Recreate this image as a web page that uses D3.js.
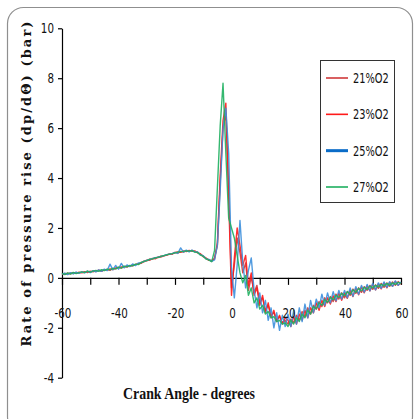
<!DOCTYPE html>
<html>
<head>
<meta charset="utf-8">
<script src="https://cdn.jsdelivr.net/npm/d3@7"></script>
<style>
  html, body { margin: 0; padding: 0; background: #fff; }
  svg { display: block; }
</style>
</head>
<body>
<svg id="chart" width="418" height="419"></svg>
<script>
// Crank angle grid, degrees
const crankAngle = [
  -60,-59,-58,-57,-56,-55,-54,-53,-52,-51,-50,-49,-48,-47,-46,-45,-44,-43,-42,-41,
  -40,-39,-38,-37,-36,-35,-34,-33,-32,-31,-30,-29,-28,-27,-26,-25,-24,-23,-22,-21,
  -20,-19,-18,-17,-16,-15,-14,-13,-12,-11,-10,-9,-8,-7,-6,-5,-4,-3,-2,-1,
  0,1,2,3,4,5,6,7,8,9,10,11,12,13,14,15,16,17,18,19,
  20,21,22,23,24,25,26,27,28,29,30,31,32,33,34,35,36,37,38,39,
  40,41,42,43,44,45,46,47,48,49,50,51,52,53,54,55,56,57,58,59,60
];

// Rate of pressure rise (bar/deg) for each oxygen concentration
const o2_21 = [
  0.14,0.18,0.15,0.20,0.17,0.22,0.19,0.23,0.25,0.21,0.27,0.24,0.28,0.30,0.26,0.32,0.34,0.30,0.38,0.36,
  0.41,0.39,0.46,0.43,0.49,0.48,0.53,0.55,0.62,0.64,0.71,0.70,0.78,0.76,0.84,0.83,0.88,0.91,0.94,0.96,
  1.01,0.99,1.06,1.03,1.09,1.06,1.10,1.05,1.03,0.93,0.88,0.77,0.73,0.66,0.80,1.30,3.80,6.00,6.60,3.60,
  -0.40,0.50,1.60,1.00,0.20,0.60,-0.50,0.05,-0.60,-0.30,-1.00,-0.80,-1.30,-1.10,-1.50,-1.40,-1.70,-1.55,-1.80,-1.70,
  -1.85,-1.65,-1.80,-1.50,-1.70,-1.35,-1.55,-1.20,-1.45,-1.10,-1.25,-0.95,-1.15,-0.80,-1.00,-0.75,-0.95,-0.65,-0.85,-0.60,
  -0.80,-0.55,-0.70,-0.45,-0.62,-0.40,-0.58,-0.35,-0.50,-0.30,-0.46,-0.28,-0.42,-0.22,-0.38,-0.20,-0.34,-0.16,-0.30,-0.15,-0.25
];
const o2_23 = [
  0.17,0.14,0.19,0.16,0.21,0.18,0.23,0.20,0.22,0.26,0.23,0.28,0.25,0.31,0.28,0.33,0.31,0.36,0.33,0.40,
  0.42,0.44,0.43,0.48,0.46,0.52,0.54,0.57,0.58,0.67,0.68,0.75,0.75,0.81,0.81,0.87,0.88,0.91,0.96,0.95,
  1.02,1.04,1.02,1.08,1.05,1.10,1.06,1.08,1.00,0.97,0.85,0.80,0.70,0.70,0.75,1.40,4.10,6.30,7.00,3.20,
  -0.70,0.80,2.00,1.30,0.50,0.90,-0.30,0.20,-0.70,-0.40,-1.10,-0.70,-1.40,-1.00,-1.60,-1.30,-1.75,-1.50,-1.85,-1.60,
  -1.70,-1.95,-1.55,-1.85,-1.45,-1.70,-1.30,-1.60,-1.20,-1.40,-1.00,-1.30,-0.90,-1.15,-0.80,-1.05,-0.72,-0.95,-0.62,-0.90,
  -0.60,-0.82,-0.50,-0.75,-0.42,-0.68,-0.36,-0.60,-0.32,-0.52,-0.26,-0.48,-0.24,-0.44,-0.20,-0.40,-0.18,-0.34,-0.14,-0.30,-0.18
];
const o2_25 = [
  0.15,0.19,0.13,0.21,0.16,0.23,0.18,0.24,0.20,0.27,0.21,0.29,0.24,0.32,0.26,0.35,0.29,0.55,0.32,0.50,
  0.35,0.58,0.40,0.52,0.45,0.56,0.49,0.60,0.61,0.66,0.70,0.74,0.77,0.81,0.83,0.86,0.89,0.93,0.95,0.97,
  1.02,0.98,1.20,1.03,1.11,1.04,1.11,1.04,1.04,0.92,0.89,0.76,0.74,0.66,0.72,1.30,3.50,6.00,6.80,5.00,
  0.40,-0.80,0.50,2.30,0.60,-0.40,0.30,0.80,-0.50,-1.20,-0.60,-1.40,-0.90,-1.70,-1.20,-2.00,-1.40,-2.10,-1.50,-1.95,
  -1.45,-1.95,-1.30,-1.85,-1.20,-1.75,-1.05,-1.60,-0.90,-1.40,-0.85,-1.20,-0.65,-1.10,-0.60,-1.00,-0.55,-0.92,-0.50,-0.85,
  -0.50,-0.80,-0.40,-0.74,-0.35,-0.66,-0.30,-0.58,-0.26,-0.52,-0.22,-0.48,-0.20,-0.42,-0.16,-0.38,-0.15,-0.34,-0.12,-0.30,-0.16
];
const o2_27 = [
  0.18,0.13,0.20,0.15,0.22,0.17,0.21,0.24,0.21,0.27,0.23,0.27,0.30,0.26,0.33,0.29,0.35,0.32,0.38,0.36,
  0.43,0.39,0.47,0.44,0.50,0.48,0.55,0.53,0.61,0.66,0.69,0.74,0.76,0.80,0.82,0.86,0.89,0.92,0.95,0.97,
  1.00,1.03,1.05,1.06,1.08,1.07,1.09,1.03,1.02,0.92,0.86,0.76,0.71,0.65,1.10,3.60,6.10,7.80,5.00,2.40,
  2.00,1.60,0.90,0.20,-0.20,0.10,-0.70,-0.40,-1.00,-0.80,-1.25,-1.10,-1.45,-1.35,-1.60,-1.55,-1.75,-1.70,-1.85,-1.80,
  -1.95,-1.70,-1.85,-1.60,-1.75,-1.45,-1.60,-1.30,-1.45,-1.15,-1.25,-1.00,-1.10,-0.88,-0.98,-0.78,-0.88,-0.70,-0.78,-0.62,
  -0.72,-0.55,-0.66,-0.48,-0.58,-0.42,-0.52,-0.38,-0.46,-0.33,-0.40,-0.30,-0.36,-0.26,-0.32,-0.22,-0.30,-0.20,-0.26,-0.18,-0.22
];

const seriesNames = ["21%O2", "23%O2", "25%O2", "27%O2"];
const seriesValues = [o2_21, o2_23, o2_25, o2_27];
const seriesColors = ["#d0393a", "#ff1a1a", "#3d8fdc", "#1fb060"];
const legendColors = ["#d0393a", "#ff1a1a", "#0a6cc8", "#1fb060"];
const legendWidths = [1.6, 1.6, 3, 1.6];

const xTickLabels = [-60, -40, -20, 0, 20, 40, 60];
const xTickMarks = [-60, -50, -40, -30, -20, -10, 0, 10, 20, 30, 40, 50, 60];
const yTickLabels = [-4, -2, 0, 2, 4, 6, 8, 10];

const svg = d3.select("#chart");
const tickFont = "'DejaVu Sans Condensed', 'DejaVu Sans', sans-serif";
const squeeze = 0.82;

// Rounded frame around the chart area
svg.append("rect")
  .attr("x", 7.5).attr("y", 7.5)
  .attr("width", 405).attr("height", 425)
  .attr("rx", 16).attr("ry", 16)
  .attr("fill", "#fff")
  .attr("stroke", "#8f8f8f")
  .attr("stroke-width", 1.2);

const x = d3.scaleLinear().domain([-60, 60]).range([62, 401]);
const y = d3.scaleLinear().domain([-4, 10]).range([377.7, 28.3]);

// Y axis (ticks and line; labels drawn below with a narrow stretch)
const yAxis = svg.append("g")
  .attr("transform", `translate(${x(-60)},0)`)
  .call(d3.axisLeft(y).tickValues(yTickLabels).tickSize(4).tickSizeOuter(0).tickFormat(""));
yAxis.selectAll("line, path").attr("stroke", "#000").attr("stroke-width", 1.2);

svg.append("g").selectAll("text")
  .data(yTickLabels)
  .join("text")
  .attr("transform", d => `translate(54,${y(d) + 5}) scale(${squeeze},1)`)
  .attr("text-anchor", "end")
  .attr("font-family", tickFont)
  .attr("font-size", 14)
  .attr("fill", "#111")
  .text(d => String(d));

// X axis crossing at zero
const xAxis = svg.append("g")
  .attr("transform", `translate(0,${y(0)})`)
  .call(d3.axisBottom(x).tickValues(xTickMarks).tickSize(7).tickSizeOuter(0).tickFormat(""));
xAxis.selectAll("line, path").attr("stroke", "#000").attr("stroke-width", 1.2);

// Series lines
const line = d3.line()
  .x((d, i) => x(crankAngle[i]))
  .y(d => y(d));

svg.append("g").selectAll("path.series")
  .data(seriesValues)
  .join("path")
  .attr("class", "series")
  .attr("d", line)
  .attr("fill", "none")
  .attr("stroke", (d, i) => seriesColors[i])
  .attr("stroke-width", 1.4)
  .attr("stroke-linejoin", "round")
  .attr("stroke-opacity", 0.9);

// X tick labels, drawn over the curves
svg.append("g").selectAll("text")
  .data(xTickLabels)
  .join("text")
  .attr("transform", d => `translate(${x(d) + 1},318) scale(${squeeze},1)`)
  .attr("text-anchor", "middle")
  .attr("font-family", tickFont)
  .attr("font-size", 14)
  .attr("fill", "#111")
  .text(d => String(d));

// Axis titles
svg.append("text")
  .attr("transform", "translate(31,184) rotate(-90)")
  .attr("text-anchor", "middle")
  .attr("font-family", "'DejaVu Serif', serif")
  .attr("font-weight", "bold")
  .attr("font-size", 13)
  .attr("fill", "#111")
  .attr("textLength", 325)
  .attr("lengthAdjust", "spacing")
  .text("Rate of pressure rise  (dp/dΘ) (bar)");

svg.append("text")
  .attr("x", 123)
  .attr("y", 399)
  .attr("font-family", "'Liberation Serif', serif")
  .attr("font-weight", "bold")
  .attr("font-size", 17)
  .attr("fill", "#111")
  .attr("textLength", 132)
  .attr("lengthAdjust", "spacingAndGlyphs")
  .text("Crank Angle - degrees");

// Legend
const legend = svg.append("g");
legend.append("rect")
  .attr("x", 320.5).attr("y", 60.5)
  .attr("width", 74).attr("height", 142)
  .attr("fill", "#fff")
  .attr("stroke", "#333")
  .attr("stroke-width", 1);

const legendY = d3.scalePoint().domain(seriesNames).range([78, 187]);
const items = legend.selectAll("g.item")
  .data(seriesNames)
  .join("g")
  .attr("class", "item")
  .attr("transform", d => `translate(0,${legendY(d)})`);
items.append("line")
  .attr("x1", 326).attr("x2", 348)
  .attr("stroke", (d, i) => legendColors[i])
  .attr("stroke-width", (d, i) => legendWidths[i]);
items.append("text")
  .attr("transform", "translate(353,5) scale(0.78,1)")
  .attr("font-family", tickFont)
  .attr("font-size", 14)
  .attr("fill", "#111")
  .text(d => d);
</script>
</body>
</html>
